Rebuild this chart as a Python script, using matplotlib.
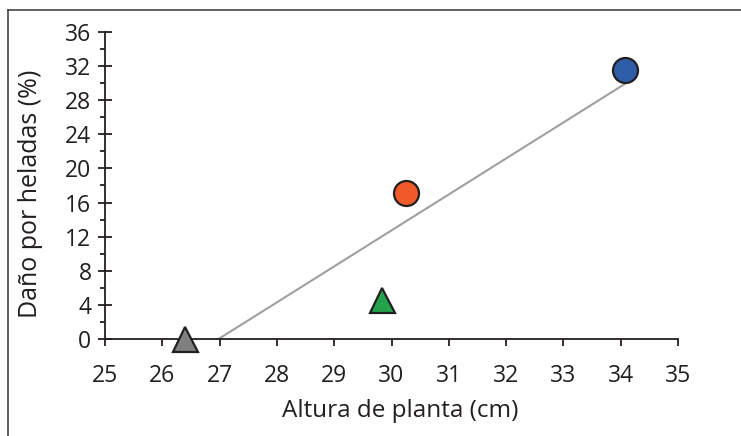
import numpy as np
import matplotlib

matplotlib.use("Agg")
import matplotlib.pyplot as plt
from matplotlib.lines import Line2D

# values
altura = [26.4, 29.83, 30.25, 34.08]
dano = [0.0, 4.6, 17.1, 31.6]
markers = ["^", "^", "o", "o"]
colors = ["#808080", "#22a34b", "#f15a29", "#2e5ea8"]

x_ticks = list(range(25, 36))
y_ticks = list(range(0, 37, 4))

ink = "#231f20"
plt.rcParams["font.family"] = ["Open Sans", "DejaVu Sans"]

fig = plt.figure(figsize=(7.41, 4.36), dpi=100)
ax = fig.add_axes([0.1417, 0.2225, 0.7733, 0.7041])

# linear trendline, clipped at y = 0 like the original
slope, icpt = np.polyfit(altura, dano, 1)
x0 = -icpt / slope
x1 = max(altura)
ax.plot([x0, x1], [slope * x0 + icpt, slope * x1 + icpt], color="#a0a0a0", lw=1.5, zorder=2)

for xv, yv, m, c in zip(altura, dano, markers, colors):
    ax.plot(xv, yv, marker=m, ms=18, mfc=c, mec=ink, mew=1.6, ls="none", zorder=3, clip_on=False)

ax.set_xlim(25, 35)
ax.set_ylim(0, 36)
ax.set_xticks(x_ticks)
ax.set_yticks(y_ticks)
ax.set_yticks(list(range(2, 36, 4)), minor=True)

for s in ["top", "right"]:
    ax.spines[s].set_visible(False)
for s in ["left", "bottom"]:
    ax.spines[s].set_color(ink)
    ax.spines[s].set_linewidth(1.3)

ax.tick_params(axis="x", direction="out", length=5, width=1.3, color=ink, labelcolor=ink,
               labelsize=16.5, pad=13)
ax.tick_params(axis="y", which="major", direction="inout", length=9.5, width=1.3, color=ink,
               labelcolor=ink, labelsize=16.5, pad=5)
ax.tick_params(axis="y", which="minor", direction="out", length=3.5, width=1.3, color=ink)

ax.set_xlabel("Altura de planta (cm)", fontsize=17.5, color=ink)
ax.set_ylabel("Daño por heladas (%)", fontsize=18, color=ink)
ax.xaxis.set_label_coords(0.515, -0.195)
ax.yaxis.set_label_coords(-0.108, 0.474)

# thin frame around the chart area (left and top edges visible)
fig.add_artist(Line2D([8 / 741, 8 / 741], [0, 1 - 10 / 436], color="#444444", lw=1.2))
fig.add_artist(Line2D([8 / 741, 1], [1 - 10 / 436, 1 - 10 / 436], color="#444444", lw=1.2))

fig.savefig("out.png", dpi=100)
